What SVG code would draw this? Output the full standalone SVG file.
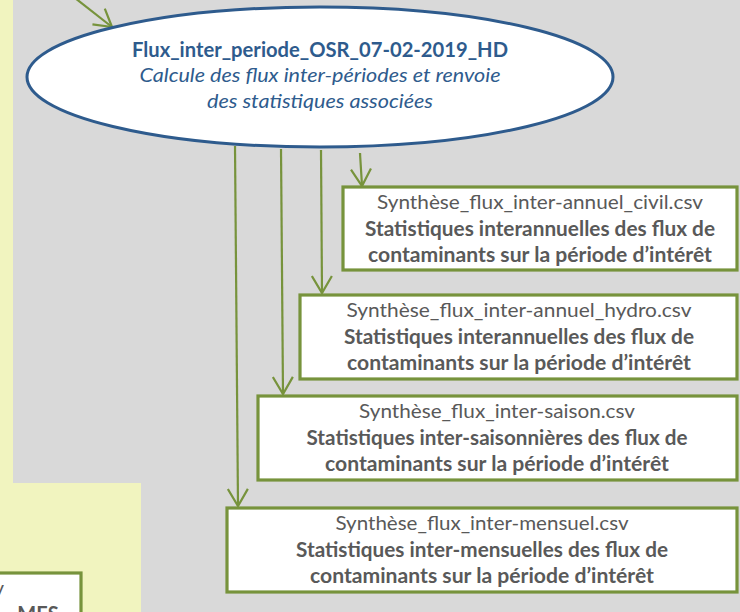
<svg xmlns="http://www.w3.org/2000/svg" width="740" height="612" viewBox="0 0 740 612">
<defs>
<style>
.box{fill:#ffffff;stroke:#77933c;stroke-width:3.2}
.con{fill:none;stroke:#77933c;stroke-width:2.2}
.t{font-family:Lato,"Open Sans","Liberation Sans",sans-serif;font-size:20px;fill:#595959;text-anchor:middle}
.b{font-weight:bold}
.et{font-family:Lato,"Open Sans","Liberation Sans",sans-serif;font-size:20px;fill:#2e5b8d;text-anchor:middle}
</style>
<marker id="arr" markerUnits="userSpaceOnUse" viewBox="0 0 22 22" markerWidth="22" markerHeight="22" refX="18" refY="11" orient="auto">
<path d="M1,1 L18,11 L1,21" fill="none" stroke="#77933c" stroke-width="2.2"/>
</marker>
</defs>
<rect x="0" y="0" width="740" height="612" fill="#d9d9d9"/>
<rect x="0" y="0" width="13" height="484" fill="#f1f4bf"/>
<rect x="0" y="483" width="141" height="129" fill="#f1f4bf"/>

<g id="connectors">
<line class="con" x1="75" y1="-2" x2="112" y2="27" marker-end="url(#arr)"/>
<line class="con" x1="235" y1="146" x2="238" y2="506" marker-end="url(#arr)"/>
<line class="con" x1="281" y1="149" x2="283" y2="394" marker-end="url(#arr)"/>
<line class="con" x1="321" y1="150" x2="322" y2="293" marker-end="url(#arr)"/>
<line class="con" x1="360" y1="153" x2="362" y2="186" marker-end="url(#arr)"/>
</g>

<g id="ellipse-node">
<ellipse cx="320" cy="77" rx="293" ry="70" fill="#ffffff" stroke="#2e5b8d" stroke-width="3"/>
<text class="et b" x="320" y="57" textLength="376" lengthAdjust="spacingAndGlyphs">Flux_inter_periode_OSR_07-02-2019_HD</text>
<text class="et" x="320" y="82" font-style="italic" textLength="361" lengthAdjust="spacingAndGlyphs">Calcule des flux inter-périodes et renvoie</text>
<text class="et" x="320" y="108" font-style="italic" textLength="226" lengthAdjust="spacingAndGlyphs">des statistiques associées</text>
</g>

<g id="box-civil">
<rect class="box" x="343" y="187" width="394" height="83"/>
<text class="t" x="540" y="209" textLength="326" lengthAdjust="spacingAndGlyphs">Synthèse_flux_inter-annuel_civil.csv</text>
<text class="t b" x="540" y="236" textLength="350" lengthAdjust="spacingAndGlyphs">Statistiques interannuelles des flux de</text>
<text class="t b" x="540" y="262" textLength="344" lengthAdjust="spacingAndGlyphs">contaminants sur la période d’intérêt</text>
</g>

<g id="box-hydro">
<rect class="box" x="300" y="295" width="437" height="84"/>
<text class="t" x="519" y="317" textLength="345" lengthAdjust="spacingAndGlyphs">Synthèse_flux_inter-annuel_hydro.csv</text>
<text class="t b" x="519" y="344" textLength="350" lengthAdjust="spacingAndGlyphs">Statistiques interannuelles des flux de</text>
<text class="t b" x="519" y="370" textLength="344" lengthAdjust="spacingAndGlyphs">contaminants sur la période d’intérêt</text>
</g>

<g id="box-saison">
<rect class="box" x="258" y="396" width="479" height="84"/>
<text class="t" x="497" y="418" textLength="276" lengthAdjust="spacingAndGlyphs">Synthèse_flux_inter-saison.csv</text>
<text class="t b" x="497" y="445" textLength="381" lengthAdjust="spacingAndGlyphs">Statistiques inter-saisonnières des flux de</text>
<text class="t b" x="497" y="471" textLength="344" lengthAdjust="spacingAndGlyphs">contaminants sur la période d’intérêt</text>
</g>

<g id="box-mensuel">
<rect class="box" x="227" y="508" width="510" height="84"/>
<text class="t" x="482" y="530" textLength="293" lengthAdjust="spacingAndGlyphs">Synthèse_flux_inter-mensuel.csv</text>
<text class="t b" x="482" y="557" textLength="372" lengthAdjust="spacingAndGlyphs">Statistiques inter-mensuelles des flux de</text>
<text class="t b" x="482" y="583" textLength="344" lengthAdjust="spacingAndGlyphs">contaminants sur la période d’intérêt</text>
</g>

<g id="box-partial">
<rect class="box" x="-4" y="573" width="85" height="50"/>
<text class="t" x="4" y="595" style="text-anchor:end">v</text>
<text class="t b" x="38" y="621">MES</text>
</g>
</svg>
